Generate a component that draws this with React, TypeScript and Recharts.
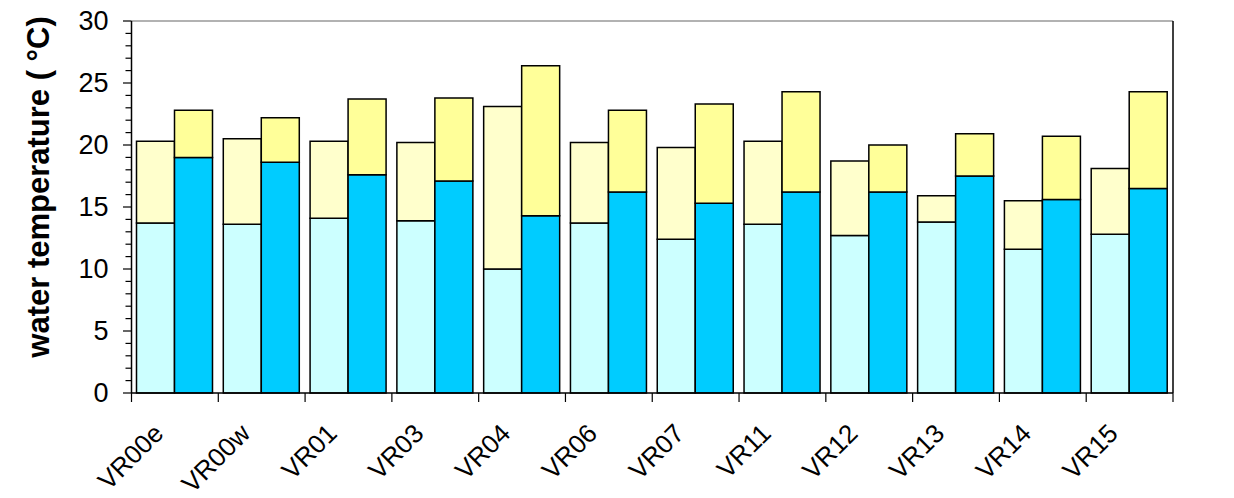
import { BarChart, Bar, XAxis, YAxis, ReferenceLine } from "recharts";

const categories = ["VR00e", "VR00w", "VR01", "VR03", "VR04", "VR06", "VR07", "VR11", "VR12", "VR13", "VR14", "VR15"];

// left pair of bars: lower part (light cyan) and upper limit (light yellow)
const leftLow = [13.7, 13.6, 14.1, 13.9, 10.0, 13.7, 12.4, 13.6, 12.7, 13.8, 11.6, 12.8];
const leftHigh = [20.3, 20.5, 20.3, 20.2, 23.1, 20.2, 19.8, 20.3, 18.7, 15.9, 15.5, 18.1];
// right pair of bars: lower part (cyan) and upper limit (yellow)
const rightLow = [19.0, 18.6, 17.6, 17.1, 14.3, 16.2, 15.3, 16.2, 16.2, 17.5, 15.6, 16.5];
const rightHigh = [22.8, 22.2, 23.7, 23.8, 26.4, 22.8, 23.3, 24.3, 20.0, 20.9, 20.7, 24.3];

const yTicks = [0, 1, 2, 3, 4, 5, 6, 7, 8, 9, 10, 11, 12, 13, 14, 15, 16, 17, 18, 19, 20, 21, 22, 23, 24, 25, 26, 27, 28, 29, 30];
const yLabels = [0, 5, 10, 15, 20, 25, 30];

const data = categories.map((name, i) => ({
  name,
  leftLow: leftLow[i],
  leftTop: +(leftHigh[i] - leftLow[i]).toFixed(2),
  rightLow: rightLow[i],
  rightTop: +(rightHigh[i] - rightLow[i]).toFixed(2),
}));

const W = 1234;
const H = 498;
const LEFT_W = 131.5;
const RIGHT_W = 61;
const PLOT_W = W - LEFT_W - RIGHT_W;
const FONT = "'Liberation Sans', Arial, sans-serif";

function YTick(props: any) {
  const { x, y, payload, side } = props;
  const v = payload.value;
  const major = yLabels.includes(v);
  const len = major ? 8.5 : 6;
  const dir = side === "left" ? -1 : 1;
  return (
    <g>
      <line x1={x} x2={x + dir * len} y1={y} y2={y} stroke="#000" strokeWidth={1.2} />
      {major && (
        <text
          x={x + dir * 23}
          y={y}
          dy="0.35em"
          textAnchor={side === "left" ? "end" : "start"}
          fontFamily={FONT}
          fontSize={27}
          fill="#000"
        >
          {v}
        </text>
      )}
    </g>
  );
}

function XTick(props: any) {
  const { x, y, payload, index } = props;
  const band = PLOT_W / categories.length;
  const tx = x - 10;
  const ty = y + 42;
  return (
    <g>
      <line x1={x - band / 2} x2={x - band / 2} y1={y} y2={y + 9} stroke="#000" strokeWidth={1.2} />
      {index === categories.length - 1 && (
        <line x1={x + band / 2} x2={x + band / 2} y1={y} y2={y + 9} stroke="#000" strokeWidth={1.2} />
      )}
      <text
        x={tx}
        y={ty}
        transform={`rotate(-45, ${tx}, ${ty})`}
        textAnchor="end"
        fontFamily={FONT}
        fontSize={26}
        fill="#000"
      >
        {payload.value}
      </text>
    </g>
  );
}

function Title(props: any) {
  const { viewBox } = props;
  const cx = 38;
  const cy = viewBox.y + viewBox.height / 2 - 20;
  return (
    <text
      x={cx}
      y={cy}
      transform={`rotate(-90, ${cx}, ${cy})`}
      textAnchor="middle"
      dominantBaseline="central"
      fontFamily={FONT}
      fontWeight="bold"
      fontSize={31}
      fill="#000"
    >
      water temperature ( °C)
    </text>
  );
}

export default function App() {
  return (
    <div style={{ position: "absolute", left: 0, top: 0, background: "#fff" }}>
      <BarChart
        width={W}
        height={H}
        data={data}
        margin={{ top: 21, right: 0, bottom: 0, left: 0 }}
        barCategoryGap={5}
        barGap={0}
      >
        <XAxis
          dataKey="name"
          height={105}
          interval={0}
          tickSize={0}
          tickMargin={0}
          tickLine={false}
          axisLine={{ stroke: "#000", strokeWidth: 1.5 }}
          tick={<XTick />}
        />
        <YAxis
          yAxisId="left"
          orientation="left"
          width={LEFT_W}
          domain={[0, 30]}
          ticks={yTicks}
          interval={0}
          tickSize={0}
          tickMargin={0}
          tickLine={false}
          axisLine={{ stroke: "#000", strokeWidth: 1.5 }}
          tick={<YTick side="left" />}
          label={<Title />}
        />
        <YAxis
          yAxisId="right"
          orientation="right"
          width={RIGHT_W}
          domain={[0, 30]}
          ticks={yTicks}
          interval={0}
          tickSize={0}
          tickMargin={0}
          tickLine={false}
          axisLine={{ stroke: "#000", strokeWidth: 1.5 }}
          tick={<YTick side="right" />}
        />
        <ReferenceLine yAxisId="left" y={30} stroke="#999" strokeWidth={1.5} />
        <Bar yAxisId="left" dataKey="leftLow" stackId="l" fill="#CCFFFF" stroke="#000" strokeWidth={1.5} isAnimationActive={false} />
        <Bar yAxisId="left" dataKey="leftTop" stackId="l" fill="#FFFFCC" stroke="#000" strokeWidth={1.5} isAnimationActive={false} />
        <Bar yAxisId="left" dataKey="rightLow" stackId="r" fill="#00CCFF" stroke="#000" strokeWidth={1.5} isAnimationActive={false} />
        <Bar yAxisId="left" dataKey="rightTop" stackId="r" fill="#FFFF99" stroke="#000" strokeWidth={1.5} isAnimationActive={false} />
      </BarChart>
    </div>
  );
}
